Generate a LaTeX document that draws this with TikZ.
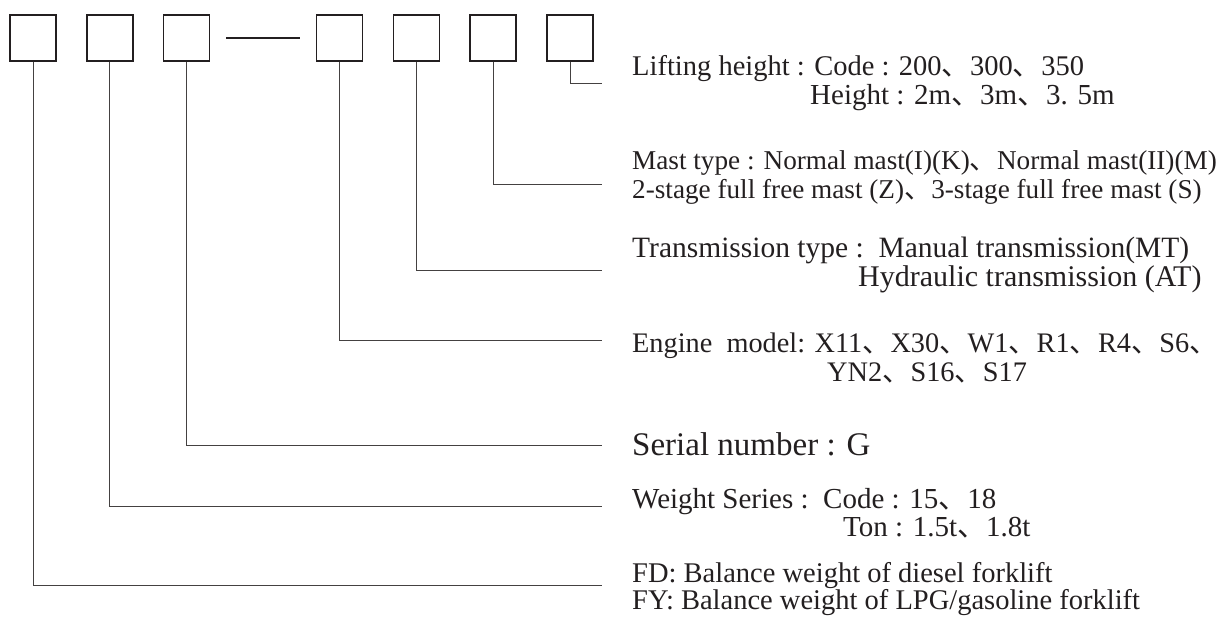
\documentclass[tikz,border=0pt]{standalone}
\usepackage{fontspec}
\setmainfont{Liberation Serif}
\newfontfamily\cjkfont{Noto Sans CJK SC}
\newcommand{\dun}{{\cjkfont 、}}
\usepackage{tikz}
\usetikzlibrary{positioning}
\definecolor{ink}{HTML}{231F20}

\begin{document}
\begin{tikzpicture}[x=1pt,y=-1pt,
  cell/.style={draw=ink,line width=1.3pt,minimum width=46pt,minimum height=46pt,inner sep=0pt},
  lead/.style={draw=ink!85,line width=1pt},
  lbl/.style={anchor=base west,inner sep=0pt,text=ink,font=\fontsize{29}{29}\selectfont}]
\useasboundingbox (0,0) rectangle (1221,616);
% code boxes
\node[cell] at (33,38) (b1) {};
\node[cell,right=29.6pt of b1] (b2) {};
\node[cell,right=29.6pt of b2] (b3) {};
\node[cell,right=105.2pt of b3] (b4) {};
\node[cell,right=29.6pt of b4] (b5) {};
\node[cell,right=29.6pt of b5] (b6) {};
\node[cell,right=29.6pt of b6] (b7) {};
\draw[ink,line width=2pt] ([xshift=16pt]b3.east) -- ([xshift=-16pt]b4.west);
% line ends
\coordinate (e7) at (602,83);
\coordinate (e6) at (602,184);
\coordinate (e5) at (602,270);
\coordinate (e4) at (602,340);
\coordinate (e3) at (602,445);
\coordinate (e2) at (602,506);
\coordinate (e1) at (602,585);
\draw[lead] (b7.south) |- (e7); \draw[lead] (b6.south) |- (e6);
\draw[lead] (b5.south) |- (e5); \draw[lead] (b4.south) |- (e4);
\draw[lead] (b3.south) |- (e3); \draw[lead] (b2.south) |- (e2);
\draw[lead] (b1.south) |- (e1);
% labels
\node[lbl,font=\fontsize{28.5}{28.5}\selectfont] (t7a) at (632,75) {Lifting height : Code : 200\dun300\dun350};
\node[lbl] (t7b) at (810,104) {Height : 2m\dun3m\dun3. 5m};
\node[lbl,font=\fontsize{27.2}{27.2}\selectfont] (t6a) at (632,169) {Mast type : Normal mast(I)(K)\dun Normal mast(II)(M)};
\node[lbl,font=\fontsize{27.2}{27.2}\selectfont] (t6b) at (632,198) {2-stage full free mast (Z)\dun3-stage full free mast (S)};
\node[lbl,font=\fontsize{29.5}{29.5}\selectfont] (t5a) at (632,257) {Transmission type :\enspace Manual transmission(MT)};
\node[lbl,font=\fontsize{30}{30}\selectfont] (t5b) at (858,286) {Hydraulic transmission (AT)};
\node[lbl,font=\fontsize{28.3}{28.3}\selectfont] (t4a) at (632,352) {Engine\ \ model: X11\dun X30\dun W1\dun R1\dun R4\dun S6\dun};
\node[lbl,font=\fontsize{28.3}{28.3}\selectfont] (t4b) at (827,381) {YN2\dun S16\dun S17};
\node[lbl,font=\fontsize{33}{33}\selectfont] (t3) at (632,455) {Serial number : G};
\node[lbl] (t2a) at (632,508) {Weight Series :\enspace Code : 15\dun18};
\node[lbl] (t2b) at (843,536) {Ton : 1.5t\dun1.8t};
\node[lbl,font=\fontsize{28.5}{28.5}\selectfont] (t1a) at (632,582) {FD: Balance weight of diesel forklift};
\node[lbl,font=\fontsize{28.5}{28.5}\selectfont] (t1b) at (632,609) {FY: Balance weight of LPG/gasoline forklift};
\end{tikzpicture}
\end{document}
